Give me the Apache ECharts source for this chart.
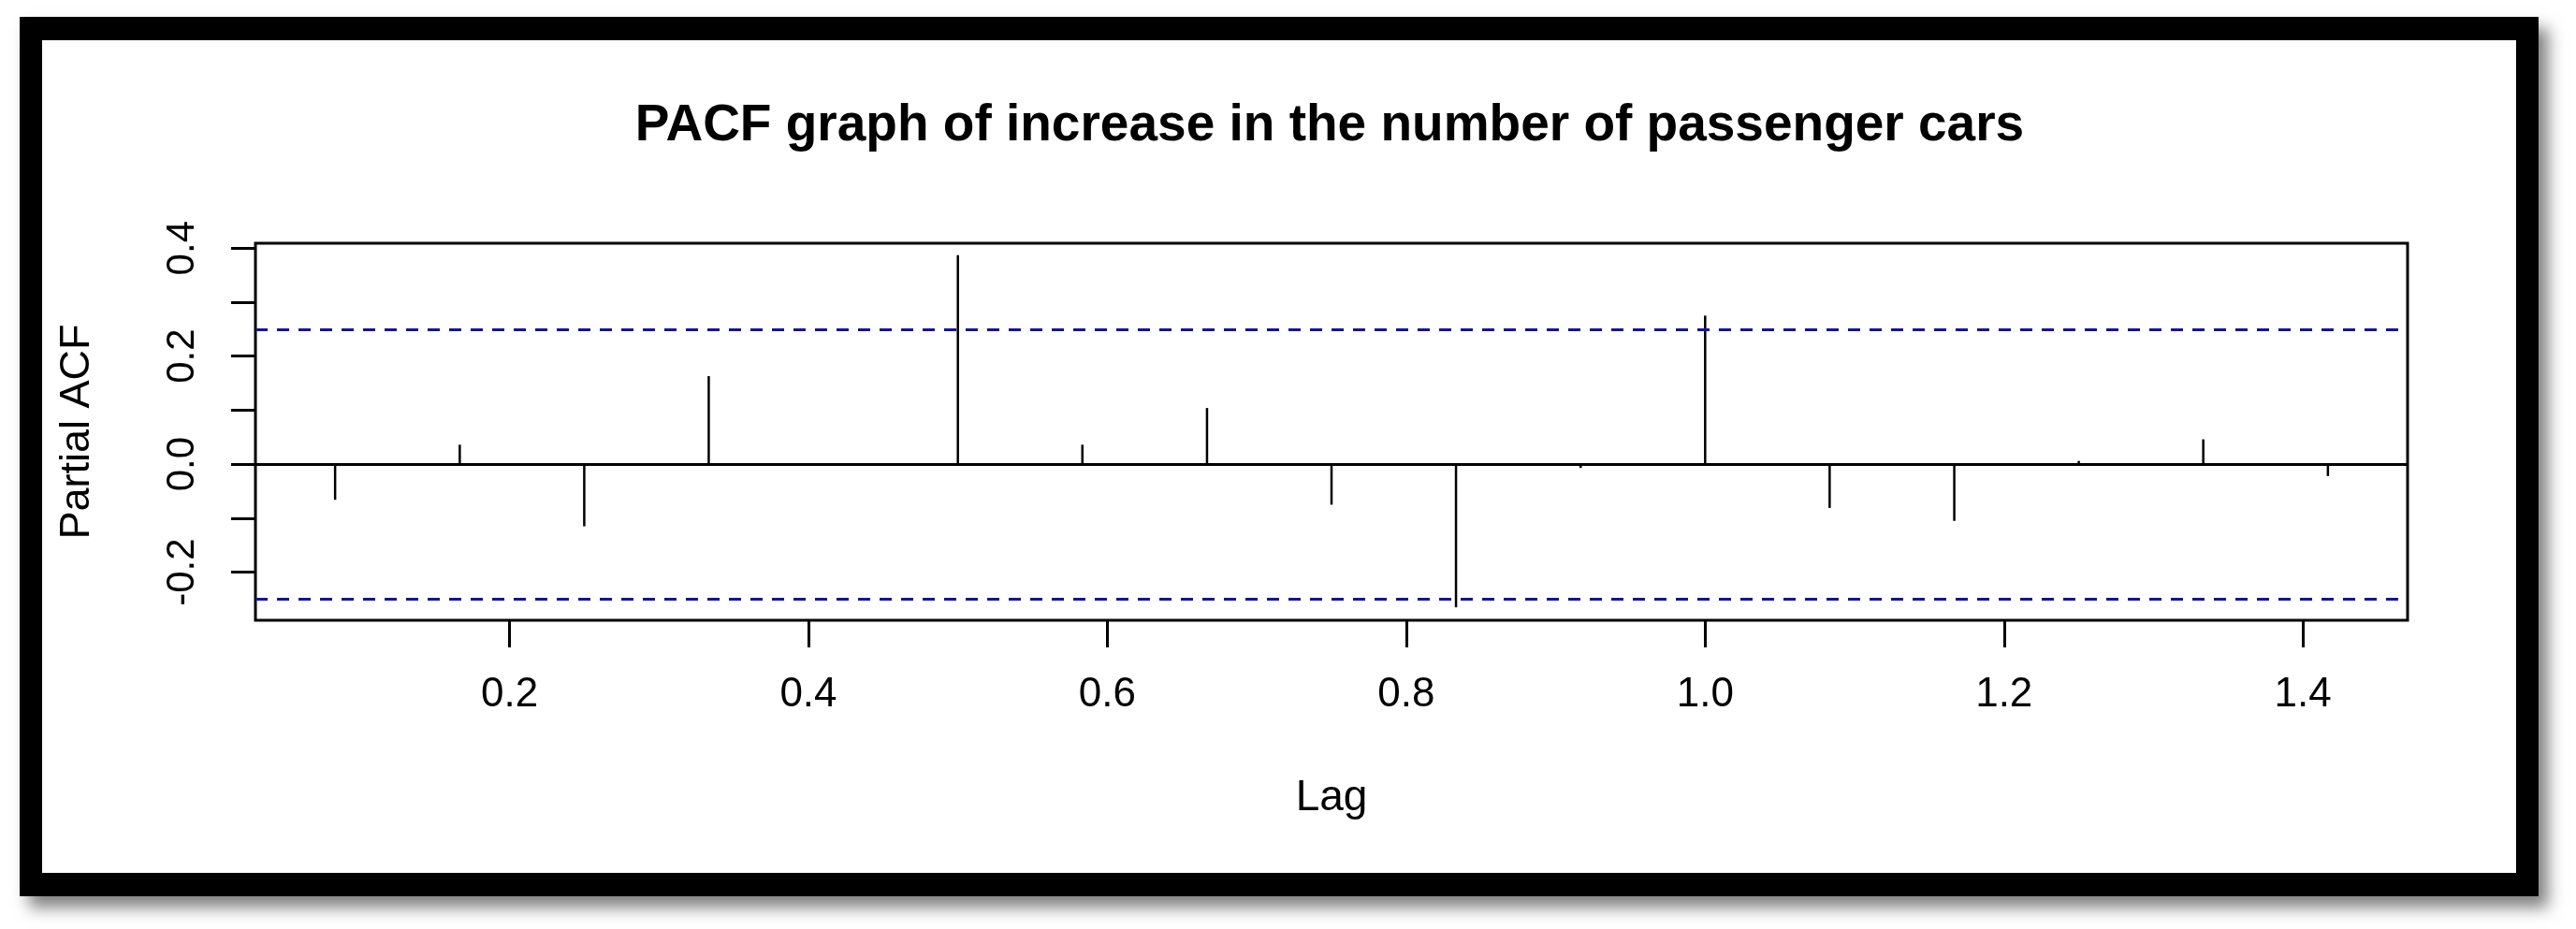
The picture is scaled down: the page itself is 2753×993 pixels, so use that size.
<!DOCTYPE html>
<html>
<head>
<meta charset="utf-8">
<script src="https://cdn.jsdelivr.net/npm/echarts@6/dist/echarts.min.js"></script>
<style>
html,body{margin:0;padding:0;background:#fff;width:2753px;height:993px;overflow:hidden;}
#frame{position:absolute;left:21px;top:18px;width:2692px;height:940px;background:#000;box-shadow:10px 12px 16px rgba(0,0,0,0.5);}
#inner{position:absolute;left:45px;top:43px;width:2644px;height:890px;background:#fff;}
#chart{position:absolute;left:0;top:0;width:2753px;height:993px;}
</style>
</head>
<body>
<div id="frame"></div>
<div id="inner"></div>
<div id="chart"></div>
<script>
const titleText = 'PACF graph of increase in the number of passenger cars';
const xAxisTitle = 'Lag';
const yAxisTitle = 'Partial ACF';

const lags = [0.0833, 0.1667, 0.25, 0.3333, 0.4167, 0.5, 0.5833, 0.6667, 0.75,
              0.8333, 0.9167, 1.0, 1.0833, 1.1667, 1.25, 1.3333, 1.4167];
const pacfValues = [-0.066, 0.036, -0.115, 0.163, 0.001, 0.387, 0.036, 0.104, -0.075,
                    -0.265, -0.007, 0.275, -0.081, -0.105, 0.006, 0.046, -0.022];
const confUpper = 0.253;
const confLower = -0.253;

const xTickValues = [0.2, 0.4, 0.6, 0.8, 1.0, 1.2, 1.4];
const xTickLabels = ['0.2', '0.4', '0.6', '0.8', '1.0', '1.2', '1.4'];
const yTickValues = [-0.2, -0.1, 0.0, 0.1, 0.2, 0.3, 0.4];
const yLabelValues = [-0.2, 0.0, 0.2, 0.4];
const yTickLabels = ['-0.2', '0.0', '0.2', '0.4'];

const FONT = '"Liberation Sans", Arial, sans-serif';

function lookup(values, labels, v) {
  for (let i = 0; i < values.length; i++) {
    if (Math.abs(values[i] - v) < 1e-9) return labels[i];
  }
  return '';
}

const chart = echarts.init(document.getElementById('chart'), null, {renderer: 'canvas'});

const option = {
  animation: false,
  backgroundColor: 'transparent',
  title: {
    text: titleText,
    left: 1421,
    top: 107,
    textAlign: 'center',
    padding: 0,
    textStyle: {fontFamily: FONT, fontSize: 55, fontWeight: 'bold', color: '#000'}
  },
  grid: {
    left: 273, right: 180, top: 260, bottom: 330,
    show: true, borderColor: '#000', borderWidth: 3, backgroundColor: 'transparent'
  },
  xAxis: {
    type: 'value',
    min: 0.03, max: 1.47,
    name: xAxisTitle,
    nameLocation: 'middle',
    nameGap: 167,
    nameTextStyle: {fontFamily: FONT, fontSize: 46, color: '#000'},
    axisLine: {show: false, onZero: false},
    axisTick: {show: true, inside: false, length: 29, customValues: xTickValues,
               lineStyle: {color: '#000', width: 3}},
    axisLabel: {show: true, margin: 58, fontFamily: FONT, fontSize: 44, color: '#000',
                customValues: xTickValues,
                formatter: v => lookup(xTickValues, xTickLabels, v)},
    splitLine: {show: false}
  },
  yAxis: {
    type: 'value',
    min: -0.289, max: 0.409,
    name: yAxisTitle,
    nameLocation: 'middle',
    nameGap: 168,
    nameRotate: 90,
    nameTextStyle: {fontFamily: FONT, fontSize: 45, color: '#000'},
    axisLine: {show: false, onZero: false},
    axisTick: {show: true, inside: false, length: 26, customValues: yTickValues,
               lineStyle: {color: '#000', width: 3}},
    axisLabel: {show: true, rotate: 90, margin: 57, fontFamily: FONT, fontSize: 42, color: '#000',
                customValues: yLabelValues,
                formatter: v => lookup(yLabelValues, yTickLabels, v)},
    splitLine: {show: false}
  },
  series: [
    {
      type: 'custom',
      data: lags.map((l, i) => [l, pacfValues[i]]),
      renderItem: function (params, api) {
        const x = api.value(0), v = api.value(1);
        const p0 = api.coord([x, 0]);
        const p1 = api.coord([x, v]);
        return {
          type: 'line',
          shape: {x1: p0[0], y1: p0[1], x2: p1[0], y2: p1[1]},
          style: {stroke: '#000', lineWidth: 2.5}
        };
      },
      markLine: {
        silent: true,
        symbol: ['none', 'none'],
        label: {show: false},
        data: [
          {yAxis: confUpper, lineStyle: {color: '#14149a', width: 3, type: [13, 10]}},
          {yAxis: confLower, lineStyle: {color: '#14149a', width: 3, type: [13, 10]}},
          {yAxis: 0, lineStyle: {color: '#000', width: 3, type: 'solid'}}
        ]
      }
    }
  ]
};

chart.setOption(option);
</script>
</body>
</html>
